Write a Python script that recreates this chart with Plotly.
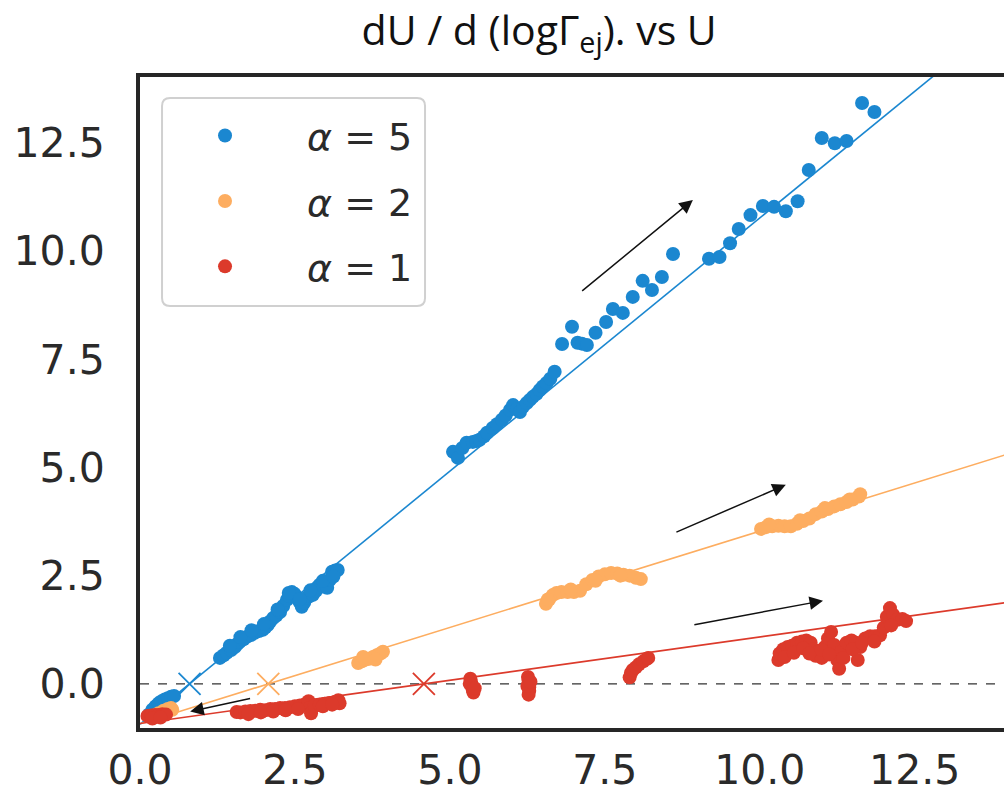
import plotly.graph_objects as go

# ---------------- data ----------------
labels = ["<i>α</i> = 5", "<i>α</i> = 2", "<i>α</i> = 1"]
colors = ["#1b87d0", "#fdad60", "#dc3a2b"]

blue_x = [0.15, 0.20, 0.25, 0.30, 0.35, 0.40, 0.45, 0.50, 0.55,
          1.29, 1.35, 1.40, 1.47, 1.53, 1.57, 1.61, 1.67, 1.73, 1.79, 1.85, 1.92, 1.98, 2.02, 2.06,
          2.10, 2.15, 2.20, 2.26, 2.31, 2.37, 2.41, 2.45, 2.49, 2.53, 2.57, 2.61, 2.65, 2.69, 2.74,
          2.79, 2.84, 2.90, 2.96, 3.02, 3.06, 3.10, 3.15, 3.19,
          1.45, 1.62, 1.80, 2.00, 2.22, 2.40, 2.58, 2.75, 2.95, 3.12,
          5.05, 5.13, 5.20, 5.27, 5.37, 5.43, 5.48, 5.55, 5.60, 5.69, 5.76, 5.84, 5.90, 5.97, 6.02,
          6.08, 6.13, 6.18, 6.24, 6.29, 6.34, 6.40, 6.45, 6.50, 6.56, 6.62, 6.69,
          6.81, 6.97, 7.06, 7.13, 7.21, 7.35, 7.52, 7.63, 7.79, 7.95, 8.11, 8.26, 8.42, 8.60,
          9.18, 9.35, 9.52, 9.66, 9.85, 10.05, 10.23, 10.42, 10.61, 10.79, 11.00, 11.21, 11.40,
          11.65, 11.85]
blue_y = [-0.70, -0.60, -0.52, -0.45, -0.40, -0.36, -0.33, -0.30, -0.28,
          0.60, 0.66, 0.72, 0.78, 0.85, 0.92, 0.97, 1.03, 1.09, 1.13, 1.18, 1.22, 1.25, 1.30, 1.36,
          1.44, 1.52, 1.58, 1.66, 1.80, 1.94, 2.03, 2.12, 2.08, 2.01, 1.90, 1.78, 1.88, 1.99, 2.03,
          2.06, 2.15, 2.29, 2.25, 2.22, 2.40, 2.59, 2.62, 2.63,
          0.88, 1.08, 1.24, 1.38, 1.72, 2.10, 1.96, 2.16, 2.38, 2.48,
          5.36, 5.22, 5.45, 5.57, 5.59, 5.61, 5.64, 5.72, 5.80, 5.91, 6.00, 6.10, 6.20, 6.33, 6.44,
          6.35, 6.28, 6.40, 6.49, 6.56, 6.63, 6.70, 6.79, 6.87, 6.95, 7.05, 7.21,
          7.85, 8.25, 7.88, 7.86, 7.83, 8.11, 8.36, 8.66, 8.57, 8.94, 9.31, 9.10, 9.40, 9.93,
          9.82, 9.86, 10.18, 10.51, 10.83, 11.04, 11.02, 10.92, 11.15, 11.87, 12.61, 12.49, 12.54,
          13.42, 13.21]

orange_x = [0.30, 0.38, 0.45, 0.50, 0.52,
            3.52, 3.58, 3.64, 3.70, 3.76, 3.82, 3.88, 3.92, 3.60, 3.80,
            6.55, 6.60, 6.66, 6.72, 6.80, 6.90, 7.00, 7.10, 7.20, 7.30, 7.40, 7.50, 7.60, 7.70,
            7.80, 7.90, 8.00, 8.08, 6.58, 6.95, 7.35, 7.75,
            10.02, 10.10, 10.20, 10.30, 10.40, 10.50, 10.60, 10.70, 10.80, 10.90, 11.00, 11.10,
            11.20, 11.30, 11.40, 11.50, 11.60, 11.62, 10.15, 10.65, 11.05, 11.45]
orange_y = [-0.68, -0.62, -0.58, -0.56, -0.60,
            0.48, 0.52, 0.56, 0.58, 0.62, 0.66, 0.70, 0.74, 0.62, 0.56,
            1.85, 1.95, 2.05, 2.10, 2.12, 2.12, 2.12, 2.15, 2.30, 2.40, 2.48, 2.53, 2.56, 2.55,
            2.52, 2.50, 2.45, 2.42, 1.95, 2.18, 2.38, 2.50,
            3.58, 3.62, 3.64, 3.65, 3.64, 3.64, 3.70, 3.76, 3.82, 3.92, 3.98, 4.04,
            4.10, 4.15, 4.20, 4.26, 4.33, 4.38, 3.68, 3.78, 4.06, 4.26]

red_x = [0.12, 0.18, 0.24, 0.30, 0.36, 0.42, 0.20, 0.33,
         1.56, 1.62, 1.70, 1.78, 1.86, 1.94, 2.02, 2.10, 2.18, 2.26, 2.34, 2.42, 2.50, 2.58,
         2.66, 2.72, 2.74, 2.76, 2.82, 2.90, 2.98, 3.06, 3.14, 3.20, 3.22,
         1.75, 1.95, 2.15, 2.35, 2.55, 2.95, 3.10,
         5.33, 5.34, 5.35, 5.36, 5.37, 5.38, 5.32, 5.40,
         6.26, 6.27, 6.27, 6.28, 6.28, 6.27, 6.25, 6.30,
         7.90, 7.92, 7.95, 8.00, 8.05, 8.12, 8.18, 8.20,
         10.30, 10.32, 10.38, 10.45, 10.52, 10.60, 10.68, 10.75, 10.82, 10.86, 10.90, 10.95,
         11.00, 11.05, 11.10, 11.15, 11.20, 11.25, 11.28, 11.32, 11.40, 11.48, 11.55, 11.58,
         11.62, 11.70, 11.78, 11.86, 11.94, 12.00, 12.05, 12.10, 12.15, 12.22, 12.30, 12.36,
         10.40, 10.55, 10.70, 10.80, 11.00, 11.12, 11.35, 11.50, 11.65, 11.85, 12.12]
red_y = [-0.74, -0.73, -0.72, -0.72, -0.70, -0.71, -0.80, -0.78,
         -0.65, -0.66, -0.64, -0.63, -0.62, -0.60, -0.61, -0.58, -0.58, -0.56, -0.56, -0.54,
         -0.52, -0.50, -0.47, -0.40, -0.55, -0.68, -0.50, -0.48, -0.46, -0.44, -0.42, -0.38, -0.45,
         -0.70, -0.66, -0.64, -0.61, -0.58, -0.52, -0.48,
         0.12, 0.05, -0.02, -0.08, -0.14, -0.20, 0.00, -0.10,
         0.16, 0.08, 0.00, -0.08, -0.16, -0.25, -0.05, 0.05,
         0.15, 0.25, 0.32, 0.38, 0.45, 0.52, 0.58, 0.60,
         0.55, 0.70, 0.80, 0.85, 0.88, 0.95, 0.98, 1.00, 0.95, 0.80, 0.65, 0.75,
         0.60, 0.85, 1.05, 1.20, 0.90, 0.55, 0.35, 0.75, 0.95, 1.00, 0.95, 0.55,
         0.85, 1.05, 1.10, 1.10, 1.12, 1.30, 1.55, 1.75, 1.60, 1.48, 1.50, 1.45,
         0.62, 0.72, 0.82, 0.70, 0.78, 0.68, 0.60, 0.80, 0.95, 0.98, 1.35]

series_x = [blue_x, orange_x, red_x]
series_y = [blue_y, orange_y, red_y]

# linear fits y = slope * (x - root); root marked with an "x"
fit_slope = [1.17, 0.445, 0.20]
fit_root = [0.80, 2.07, 4.58]
fit_xspan = [0.0, 14.5]

# arrows: (tail_x, tail_y, head_x, head_y)
arrows = [(7.11, 9.05, 8.92, 11.18),
          (8.63, 3.49, 10.42, 4.60),
          (8.92, 1.36, 11.02, 1.92),
          (1.80, -0.33, 0.81, -0.64)]

x_range = [0.0, 13.94]
y_range = [-1.02, 14.02]
tick_vals = [0.0, 2.5, 5.0, 7.5, 10.0, 12.5]
tick_text = ["0.0", "2.5", "5.0", "7.5", "10.0", "12.5"]

# ---------------- figure ----------------
fig = go.Figure()

for i in range(3):
    fig.add_trace(go.Scatter(
        x=fit_xspan, y=[fit_slope[i] * (xx - fit_root[i]) for xx in fit_xspan],
        mode="lines", line=dict(color=colors[i], width=1.6),
        showlegend=False, hoverinfo="skip"))

for i in range(3):
    fig.add_trace(go.Scatter(
        x=series_x[i], y=series_y[i], mode="markers", name=labels[i],
        legendgroup=f"g{i}",
        marker=dict(color=colors[i], size=14, line=dict(width=0))))

for i in range(3):
    fig.add_trace(go.Scatter(
        x=[fit_root[i]], y=[0.0], mode="markers",
        marker=dict(symbol="x-thin", size=22, line=dict(color=colors[i], width=1.8)),
        showlegend=False, hoverinfo="skip"))

for (tx, ty, hx, hy) in arrows:
    fig.add_annotation(x=hx, y=hy, ax=tx, ay=ty, xref="x", yref="y",
                       axref="x", ayref="y", showarrow=True, arrowhead=2,
                       arrowsize=1.8, arrowwidth=1.5, arrowcolor="#111111", text="")

# dashed zero line
fig.add_shape(type="line", xref="paper", x0=0, x1=1, yref="y", y0=0, y1=0,
              line=dict(color="#333333", width=1.2, dash="dash"), layer="below")

# rounded legend frame
lx0, lx1, ly0, ly1 = 0.0255, 0.3299, 0.6482, 0.9677
rx, ry = 8 / 864, 8 / 651
path = (f"M {lx0+rx},{ly0} L {lx1-rx},{ly0} Q {lx1},{ly0} {lx1},{ly0+ry} "
        f"L {lx1},{ly1-ry} Q {lx1},{ly1} {lx1-rx},{ly1} L {lx0+rx},{ly1} "
        f"Q {lx0},{ly1} {lx0},{ly1-ry} L {lx0},{ly0+ry} Q {lx0},{ly0} {lx0+rx},{ly0} Z")
fig.add_shape(type="path", path=path, xref="paper", yref="paper",
              line=dict(color="#d0d0d0", width=2), fillcolor="white", layer="below")

axis_font = dict(family="DejaVu Sans", size=41, color="#2a2a2a")
fig.update_layout(
    width=1004, height=799,
    margin=dict(l=140, r=0, t=77, b=71, autoexpand=False),
    paper_bgcolor="white", plot_bgcolor="white",
    title=dict(text="dU / d (logΓ<sub>ej</sub>). vs U", x=0.537, xanchor="center",
               y=0.962, yanchor="middle",
               font=dict(family="Liberation Sans Narrow, Open Sans", size=41, color="#111111")),
    showlegend=True,
    legend=dict(x=0.0035, y=0.958, xanchor="left", yanchor="top",
                bgcolor="rgba(0,0,0,0)", borderwidth=0,
                font=dict(family="DejaVu Sans", size=38, color="#2a2a2a"),
                itemwidth=154, tracegroupgap=13),
    xaxis=dict(range=x_range, tickvals=tick_vals, ticktext=tick_text, showgrid=False,
               zeroline=False, showline=True, linecolor="#262626", linewidth=4,
               mirror=True, ticks="", ticklabelstandoff=3, tickfont=axis_font,
               automargin=False),
    yaxis=dict(range=y_range, tickvals=tick_vals, ticktext=tick_text, showgrid=False,
               zeroline=False, showline=True, linecolor="#262626", linewidth=4,
               mirror=False, ticks="", ticklabelstandoff=23, tickfont=axis_font,
               automargin=False),
)

fig.write_html("out.html")
